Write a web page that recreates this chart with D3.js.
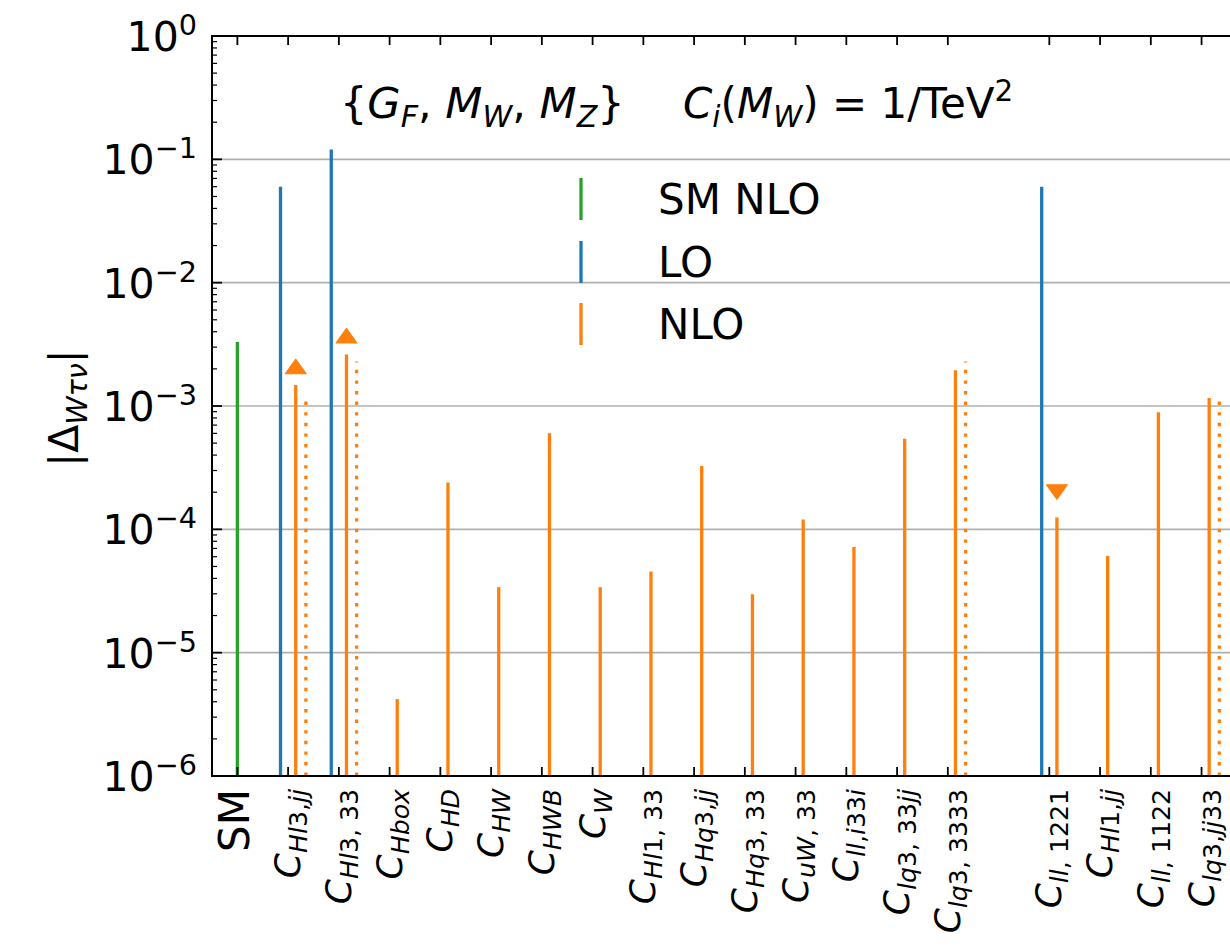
<!DOCTYPE html>
<html>
<head>
<meta charset="utf-8">
<script src="https://cdn.jsdelivr.net/npm/d3@7"></script>
<style>
  body { margin: 0; background: #fff; }
  text { font-family: "DejaVu Sans", sans-serif; fill: #000; white-space: pre; }
</style>
</head>
<body>
<svg id="chart" width="1230" height="951"></svg>
<script>
// x categories and their slot on the axis (slot 15 is left empty)
const categories = ["SM", "C_{Hl3,jj}", "C_{Hl3, 33}", "C_{Hbox}", "C_{HD}", "C_{HW}", "C_{HWB}", "C_{W}",
    "C_{Hl1, 33}", "C_{Hq3,jj}", "C_{Hq3, 33}", "C_{uW, 33}", "C_{ll,i33i}", "C_{lq3, 33jj}", "C_{lq3, 3333}",
    "C_{ll, 1221}", "C_{Hl1,jj}", "C_{ll, 1122}", "C_{lq3,jj33}"];
const slots = [0, 1, 2, 3, 4, 5, 6, 7, 8, 9, 10, 11, 12, 13, 14, 16, 17, 18, 19];

// SM NLO
const smSlots = [0];
const smValues = [3.3e-3];

// LO
const loSlots = [1, 2, 16];
const loValues = [0.060, 0.12, 0.060];

// NLO (solid)
const nloSlots = [1, 2, 3, 4, 5, 6, 7, 8, 9, 10, 11, 12, 13, 14, 16, 17, 18, 19];
const nloValues = [1.48e-3, 2.62e-3, 4.2e-6, 2.4e-4, 3.4e-5, 6.0e-4, 3.4e-5, 4.55e-5, 3.26e-4,
    2.98e-5, 1.2e-4, 7.2e-5, 5.42e-4, 1.95e-3, 1.25e-4, 6.1e-5, 8.9e-4, 1.16e-3];

// NLO (dotted)
const nloAltSlots = [1, 2, 14, 19];
const nloAltValues = [1.15e-3, 2.3e-3, 2.3e-3, 1.1e-3];

// NLO arrow markers
const arrowSlots = [1, 2, 16];
const arrowValues = [2.0e-3, 3.55e-3, 2.1e-4];
const arrowDirs = ["up", "up", "down"];

const yTickExps = [-6, -5, -4, -3, -2, -1, 0];

const legendLabels = ["SM NLO", "LO", "NLO"];

const colSM = "#2ca02c", colLO = "#1f77b4", colNLO = "#ff7f0e";

const svg = d3.select("#chart");
const pLeft = 212, pRight = 1232, pTop = 36, pBottom = 776;

const x = d3.scaleLinear().domain([-0.5, 19.6]).range([pLeft, pRight]);
const y = d3.scaleLog().domain([1e-6, 1]).range([pBottom, pTop]);

// mini parser: "C_{Hl3,jj}" -> runs with italic letters, sub / sup
function parse(str, mathLetters) {
    if (mathLetters === undefined) mathLetters = true;
    const runs = [];
    const re = /([_^])\{([^}]*)\}|([^_^]+)/g;
    let m;
    while ((m = re.exec(str)) !== null) {
        const body = m[2] !== undefined ? m[2] : m[3];
        const kind = m[1] === "_" ? "sub" : (m[1] === "^" ? "sup" : "");
        let cur = null;
        for (const ch of body) {
            const it = mathLetters && /[A-Za-zτν]/.test(ch);
            if (cur && cur.it === it) cur.t += ch;
            else { cur = {t: ch, it: it, kind: kind}; runs.push(cur); }
        }
    }
    return runs;
}

function richText(sel, runs, size, subShift, supShift) {
    let cur = 0;
    runs.forEach(function (r) {
        const off = r.kind === "sub" ? subShift : (r.kind === "sup" ? -supShift : 0);
        sel.append("tspan")
            .attr("dy", off - cur)
            .style("font-size", (r.kind ? size * 0.7 : size) + "px")
            .style("font-style", r.it ? "italic" : "normal")
            .text(r.t);
        cur = off;
    });
}

// grid
svg.append("g").selectAll("line")
    .data(yTickExps.filter(e => e > -6 && e < 0))
    .enter().append("line")
    .attr("x1", pLeft).attr("x2", pRight)
    .attr("y1", d => y(Math.pow(10, d))).attr("y2", d => y(Math.pow(10, d)))
    .style("stroke", "#b0b0b0").style("stroke-width", 1.6);

// bars
function stems(slotArr, valArr, offset, color, dash) {
    svg.append("g").selectAll("line")
        .data(slotArr.map((s, i) => ({s: s, v: valArr[i]})))
        .enter().append("line")
        .attr("x1", d => x(d.s + offset)).attr("x2", d => x(d.s + offset))
        .attr("y1", y(1e-6)).attr("y2", d => y(d.v))
        .style("stroke", color)
        .style("stroke-width", 3.3)
        .style("stroke-dasharray", dash || null);
}
stems(smSlots, smValues, 0, colSM);
stems(loSlots, loValues, -0.15, colLO);
stems(nloSlots, nloValues, 0.15, colNLO);
stems(nloAltSlots, nloAltValues, 0.35, colNLO, "3.4,7.2");

// arrow markers (wide triangles)
svg.append("g").selectAll("path")
    .data(arrowSlots.map((s, i) => ({s: s, v: arrowValues[i], dir: arrowDirs[i]})))
    .enter().append("path")
    .attr("d", d3.symbol().type(d3.symbolTriangle).size(170))
    .attr("transform", d => "translate(" + x(d.s + 0.15) + "," + y(d.v) + ")" + (d.dir === "down" ? " rotate(180)" : "") + " scale(1.05,0.85)")
    .style("fill", colNLO)
    .style("stroke", colNLO).style("stroke-width", 1.2).style("stroke-linejoin", "round");

// y axis ticks (major + minor), inward
const yAxisG = svg.append("g");
yTickExps.forEach(function (e) {
    yAxisG.append("line").attr("x1", pLeft).attr("x2", pLeft + 10)
        .attr("y1", y(Math.pow(10, e))).attr("y2", y(Math.pow(10, e)))
        .style("stroke", "#000").style("stroke-width", 1.8);
    if (e < 0) {
        d3.range(2, 10).forEach(function (k) {
            const yy = y(k * Math.pow(10, e));
            yAxisG.append("line").attr("x1", pLeft).attr("x2", pLeft + 5)
                .attr("y1", yy).attr("y2", yy)
                .style("stroke", "#000").style("stroke-width", 1.2);
        });
    }
    const t = yAxisG.append("text")
        .attr("x", 197).attr("y", y(Math.pow(10, e)) + 15)
        .attr("text-anchor", "end")
        .style("font-size", "41px");
    richText(t, [{t: "10", it: false, kind: ""}, {t: (e < 0 ? "\u2212" + (-e) : "" + e), it: false, kind: "sup"}], 41, 8, 16);
});

// x ticks on bottom and top, inward
const xAxisG = svg.append("g");
slots.forEach(function (s) {
    xAxisG.append("line").attr("x1", x(s)).attr("x2", x(s))
        .attr("y1", pBottom).attr("y2", pBottom - 9)
        .style("stroke", "#000").style("stroke-width", 1.8);
    xAxisG.append("line").attr("x1", x(s)).attr("x2", x(s))
        .attr("y1", pTop).attr("y2", pTop + 9)
        .style("stroke", "#000").style("stroke-width", 1.8);
});

// x tick labels, rotated
slots.forEach(function (s, i) {
    const lab = categories[i];
    const t = xAxisG.append("text")
        .attr("transform", "translate(" + (x(s) + 12) + "," + 789 + ") rotate(-90)")
        .attr("text-anchor", "end");
    if (lab === "SM") {
        t.style("font-size", "42px").text("SM");
    } else {
        t.style("font-size", "36px");
        richText(t, parse(lab), 36, 7, 14);
    }
});

// frame
const frame = d3.path();
frame.moveTo(pRight, pTop); frame.lineTo(pLeft, pTop); frame.lineTo(pLeft, pBottom); frame.lineTo(pRight, pBottom);
frame.closePath();
svg.append("path")
    .attr("d", frame.toString())
    .style("fill", "none").style("stroke", "#000").style("stroke-width", 2);

// y label
const yl = svg.append("text")
    .attr("transform", "translate(78,408) rotate(-90)")
    .attr("text-anchor", "middle")
    .style("font-size", "41px");
richText(yl, [{t: "|\u0394", it: false, kind: ""}].concat(parse("_{Wτν}")).concat([{t: "|", it: false, kind: ""}]), 41, 9, 16);

// annotation
const an1 = svg.append("text").attr("x", 340).attr("y", 118).style("font-size", "43px");
richText(an1, [{t: "{", it: false, kind: ""}].concat(parse("G_{F}, M_{W}, M_{Z}")).concat([{t: "}", it: false, kind: ""}]), 43, 9, 17);

const an2 = svg.append("text").attr("x", 683).attr("y", 118).style("font-size", "42px");
richText(an2, parse("C_{i}(M_{W})").concat(parse(" = 1/TeV^{2}", false)), 42, 9, 17);

// legend
const legColors = [colSM, colLO, colNLO];
const legY = [199, 262, 324];
const leg = svg.append("g");
legendLabels.forEach(function (l, i) {
    leg.append("line").attr("x1", 581).attr("x2", 581)
        .attr("y1", legY[i] - 21).attr("y2", legY[i] + 21)
        .style("stroke", legColors[i]).style("stroke-width", 3.3);
    leg.append("text").attr("x", 658).attr("y", legY[i])
        .attr("dominant-baseline", "central")
        .style("font-size", "42px").text(l);
});
</script>
</body>
</html>
